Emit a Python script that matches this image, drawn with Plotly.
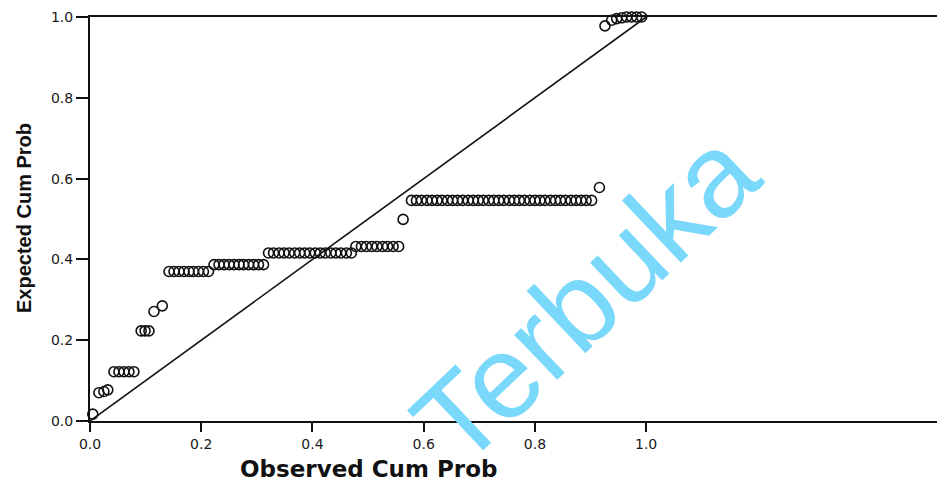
import plotly.graph_objects as go

# Observed cumulative probability (x) and expected cumulative probability (y)
observed_cum_prob = [
    0.005,
    0.016, 0.025, 0.032,
    0.043, 0.052, 0.061, 0.070, 0.079,
    0.092, 0.099, 0.106,
    0.115, 0.130,
    0.142, 0.151, 0.160, 0.169, 0.178, 0.186, 0.195, 0.204, 0.213,
    0.223, 0.232, 0.241, 0.250, 0.259, 0.268, 0.276, 0.285, 0.294, 0.303, 0.312,
    0.321, 0.330, 0.340, 0.349, 0.358, 0.368, 0.377, 0.386, 0.395, 0.405, 0.414,
    0.423, 0.433, 0.442, 0.451, 0.461, 0.470,
    0.478, 0.488, 0.497, 0.507, 0.516, 0.526, 0.535, 0.545, 0.555,
    0.563,
    0.578, 0.587, 0.596, 0.606, 0.615, 0.624, 0.633, 0.643, 0.652, 0.661, 0.670,
    0.680, 0.689, 0.698, 0.707, 0.717, 0.726, 0.735, 0.744, 0.754, 0.763, 0.772,
    0.781, 0.791, 0.800, 0.809, 0.818, 0.828, 0.837, 0.846, 0.855, 0.865, 0.874,
    0.883, 0.892, 0.902,
    0.916,
    0.926,
    0.938, 0.947, 0.956, 0.965, 0.974, 0.983, 0.992,
]
expected_cum_prob = [
    0.017,
    0.070, 0.073, 0.077,
    0.122, 0.122, 0.122, 0.122, 0.122,
    0.223, 0.223, 0.223,
    0.271, 0.285,
    0.370, 0.370, 0.370, 0.370, 0.370, 0.370, 0.370, 0.370, 0.370,
    0.387, 0.387, 0.387, 0.387, 0.387, 0.387, 0.387, 0.387, 0.387, 0.387, 0.387,
    0.416, 0.416, 0.416, 0.416, 0.416, 0.416, 0.416, 0.416, 0.416, 0.416, 0.416,
    0.416, 0.416, 0.416, 0.416, 0.416, 0.416,
    0.432, 0.432, 0.432, 0.432, 0.432, 0.432, 0.432, 0.432, 0.432,
    0.499,
    0.546, 0.546, 0.546, 0.546, 0.546, 0.546, 0.546, 0.546, 0.546, 0.546, 0.546,
    0.546, 0.546, 0.546, 0.546, 0.546, 0.546, 0.546, 0.546, 0.546, 0.546, 0.546,
    0.546, 0.546, 0.546, 0.546, 0.546, 0.546, 0.546, 0.546, 0.546, 0.546, 0.546,
    0.546, 0.546, 0.546,
    0.578,
    0.978,
    0.992, 0.996, 0.998, 1.000, 1.000, 1.000, 1.000,
]

diag_x = [0.0, 1.0]
diag_y = [0.0, 1.0]

tick_vals = [0.0, 0.2, 0.4, 0.6, 0.8, 1.0]
tick_text = ["0.0", "0.2", "0.4", "0.6", "0.8", "1.0"]

x_title = "Observed Cum Prob"
y_title = "Expected Cum Prob"
watermark = "Terbuka"

W, H = 937, 482
ML, MR, MT, MB = 90, 0, 17, 61
plot_w = W - ML - MR
plot_h = H - MT - MB


def px(xp):
    return (xp - ML) / plot_w


def py(yp):
    return (H - MB - yp) / plot_h


fig = go.Figure()
fig.add_trace(go.Scatter(
    x=diag_x, y=diag_y, mode="lines",
    line=dict(color="#111111", width=1.6),
    hoverinfo="skip", showlegend=False,
))
fig.add_trace(go.Scatter(
    x=observed_cum_prob, y=expected_cum_prob, mode="markers",
    marker=dict(symbol="circle-open", size=10, color="#111111",
                line=dict(width=1.6, color="#111111")),
    cliponaxis=False, showlegend=False,
))

axis_font = dict(family="DejaVu Sans, Verdana, sans-serif", size=14, color="#1a1a1a")

fig.update_layout(
    width=W, height=H,
    margin=dict(l=ML, r=MR, t=MT, b=MB),
    paper_bgcolor="white", plot_bgcolor="white",
    xaxis=dict(
        range=[0, 1.523], tickvals=tick_vals, ticktext=tick_text,
        showgrid=False, zeroline=False, showline=True, linecolor="#111111",
        linewidth=2, mirror=True, ticks="outside", ticklen=9, tickwidth=1.5,
        tickcolor="#111111", tickfont=axis_font,
    ),
    yaxis=dict(
        range=[0, 1.0], tickvals=tick_vals, ticktext=tick_text,
        showgrid=False, zeroline=False, showline=True, linecolor="#111111",
        linewidth=2, ticks="outside", ticklen=12, tickwidth=1.5,
        tickcolor="#111111", tickfont=axis_font,
    ),
)

fig.add_annotation(
    text="<b>" + x_title + "</b>", x=0.5, xref="x", y=py(469), yref="paper",
    showarrow=False, font=dict(family="DejaVu Sans, Verdana", size=23, color="#111111"),
    xanchor="center", yanchor="middle",
)
fig.add_annotation(
    text="<b>" + y_title + "</b>", x=px(24), xref="paper", y=py(218), yref="paper",
    showarrow=False, textangle=-90,
    font=dict(family="Liberation Sans, Arial", size=20, color="#111111"),
    xanchor="center", yanchor="middle",
)
fig.add_annotation(
    text=watermark, x=px(585), y=py(297),
    xref="paper", yref="paper", showarrow=False, textangle=-43.5,
    font=dict(family="Liberation Sans, Arial", size=118, color="#7AD8FA"),
    xanchor="center", yanchor="middle",
)

fig.write_html(
    "out.html",
    config={"displayModeBar": False},
    post_script="document.body.style.margin='0';document.body.style.overflow='hidden';",
)
